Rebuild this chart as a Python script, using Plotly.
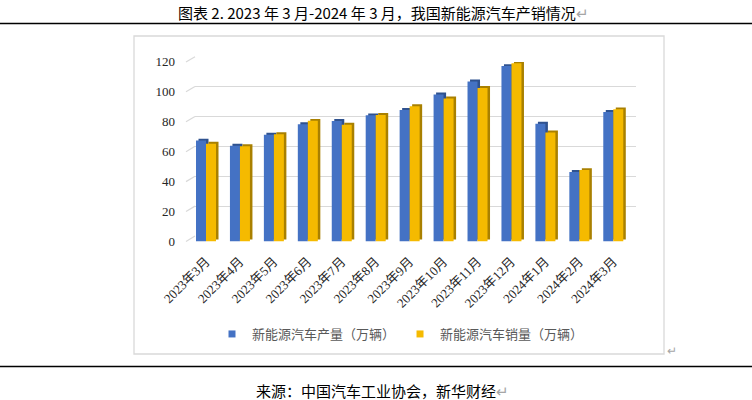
import plotly.graph_objects as go

W, H = 752, 400

months = ["2023年3月", "2023年4月", "2023年5月", "2023年6月", "2023年7月", "2023年8月",
          "2023年9月", "2023年10月", "2023年11月", "2023年12月", "2024年1月", "2024年2月",
          "2024年3月"]
production = [67.4, 64.0, 71.3, 78.4, 80.5, 84.3, 87.9, 98.3, 106.9, 117.2, 78.7, 46.5, 86.5]
sales = [65.3, 63.6, 71.7, 80.6, 78.0, 84.6, 90.4, 95.6, 102.6, 119.1, 72.9, 47.7, 88.3]
yticks = [0, 20, 40, 60, 80, 100, 120]

name_prod = "新能源汽车产量（万辆）"
name_sales = "新能源汽车销量（万辆）"

BLUE, BLUE_D = "#4472C4", "#2F528F"
GOLD, GOLD_D = "#F5BA00", "#A98000"

def fx(px):
    return px / W

def fy(py):
    return 1 - py / H

# front plane (bars) and back wall (grid) geometry in pixels
FRONT_X = (186, 627)
FRONT_Y0, FRONT_Y120 = 241.5, 61.9
BACK_X = (195, 636)
BACK_Y0, BACK_Y120 = 236.0, 56.7

BW = 0.2946      # bar width in category units
DX = 0.074       # depth offset (right)
DY = 1.3         # depth offset (up), in value units

fig = go.Figure()

# legend proxies on the grid subplot
fig.add_trace(go.Scatter(x=[None], y=[None], mode="markers", name=name_prod,
                         marker=dict(symbol="square", size=7, color=BLUE),
                         xaxis="x", yaxis="y", hoverinfo="skip"))
fig.add_trace(go.Scatter(x=[None], y=[None], mode="markers", name=name_sales,
                         marker=dict(symbol="square", size=7, color=GOLD),
                         xaxis="x", yaxis="y", hoverinfo="skip"))

# bars (3D look: darker shifted body behind the front face)
for vals, front, dark, off, nm in [(production, BLUE, BLUE_D, -BW, name_prod),
                                   (sales, GOLD, GOLD_D, 0.0, name_sales)]:
    fig.add_trace(go.Bar(x=months, y=vals, base=DY, offset=off + DX, width=BW,
                         marker=dict(color=dark, line=dict(width=0)),
                         xaxis="x2", yaxis="y2", showlegend=False, hoverinfo="skip",
                         cliponaxis=False))
    fig.add_trace(go.Bar(x=months, y=vals, offset=off, width=BW, name=nm,
                         marker=dict(color=front, line=dict(width=0)),
                         xaxis="x2", yaxis="y2", showlegend=False, cliponaxis=False))

n = len(months)
cat_px = 33.94
left_units = -(206 - FRONT_X[0]) / cat_px
right_units = (n - 1) + (FRONT_X[1] - (206 + cat_px * (n - 1))) / cat_px

shapes = []
# slanted floor/side ticks joining front and back wall gridlines
for v in yticks:
    yf = FRONT_Y0 - v * (FRONT_Y0 - FRONT_Y120) / 120
    yb = BACK_Y0 - v * (BACK_Y0 - BACK_Y120) / 120
    shapes.append(dict(type="line", xref="paper", yref="paper",
                       x0=fx(FRONT_X[0]), y0=fy(yf), x1=fx(BACK_X[0]), y1=fy(yb),
                       line=dict(color="#d9d9d9", width=1.2), layer="below"))
# chart frame
shapes.append(dict(type="rect", xref="paper", yref="paper",
                   x0=fx(134), y0=fy(354), x1=fx(664), y1=fy(36),
                   line=dict(color="#d9d9d9", width=1.3), layer="below"))
# page rules
shapes.append(dict(type="line", xref="paper", yref="paper", x0=0, x1=1,
                   y0=fy(23.5), y1=fy(23.5), line=dict(color="black", width=1.6),
                   layer="above"))
shapes.append(dict(type="line", xref="paper", yref="paper", x0=0, x1=1,
                   y0=fy(366.5), y1=fy(366.5), line=dict(color="black", width=1.6),
                   layer="above"))

annotations = [
    dict(text="图表 2. 2023 年 3 月-2024 年 3 月，我国新能源汽车产销情况"
              "<span style='color:#a6a6a6'>↵</span>",
         xref="paper", yref="paper", x=fx(384), y=fy(12), showarrow=False,
         xanchor="center", yanchor="middle",
         font=dict(family="Noto Sans CJK SC", size=15, color="black")),
    dict(text="来源：中国汽车工业协会，新华财经<span style='color:#a6a6a6'>↵</span>",
         xref="paper", yref="paper", x=fx(254), y=fy(390), showarrow=False,
         xanchor="left", yanchor="middle",
         font=dict(family="Noto Sans CJK SC", size=15, color="black")),
    dict(text="↵", xref="paper", yref="paper", x=fx(665), y=fy(349), showarrow=False,
         xanchor="left", yanchor="middle",
         font=dict(family="Noto Sans CJK SC", size=12, color="#a6a6a6")),
]

serif = "Liberation Serif, Noto Sans CJK SC"

fig.update_layout(
    template="none",
    width=W, height=H, autosize=False,
    margin=dict(l=0, r=0, t=0, b=0, pad=0, autoexpand=False),
    paper_bgcolor="white", plot_bgcolor="rgba(0,0,0,0)",
    barmode="overlay",
    showlegend=True,
    legend=dict(orientation="h", x=fx(212), y=fy(334), xanchor="left", yanchor="middle",
                font=dict(family="Noto Sans CJK SC", size=13, color="#595959"),
                bgcolor="rgba(0,0,0,0)", itemclick=False, tracegroupgap=0),
    xaxis=dict(domain=[fx(BACK_X[0]), fx(BACK_X[1])], range=[0, 1], showgrid=False,
               showticklabels=False, zeroline=False, showline=False, fixedrange=True,
               automargin=False),
    yaxis=dict(domain=[fy(BACK_Y0), fy(BACK_Y120)], range=[0, 120], tickvals=yticks,
               showgrid=True, gridcolor="#d9d9d9", gridwidth=1.2, zeroline=False,
               showticklabels=False, showline=False, fixedrange=True, ticks="",
               automargin=False),
    xaxis2=dict(domain=[fx(FRONT_X[0]), fx(FRONT_X[1])], anchor="y2",
                range=[left_units, right_units], type="category", ticks="",
                tickangle=-45, showgrid=False, zeroline=False, showline=False,
                ticklabelstandoff=9,
                tickfont=dict(family=serif, size=13, color="#262626"), fixedrange=True,
                automargin=False),
    yaxis2=dict(domain=[fy(FRONT_Y0), fy(FRONT_Y120)], anchor="x2", range=[0, 120],
                tickvals=yticks, showgrid=False, zeroline=False, showline=False,
                ticks="", ticklabelstandoff=10,
                tickfont=dict(family="Liberation Serif", size=13, color="#262626"),
                fixedrange=True, automargin=False),
    shapes=shapes,
    annotations=annotations,
)

fig.write_html("out.html", config={"displayModeBar": False},
               post_script="document.body.style.margin='0';document.body.style.overflow='hidden';")
